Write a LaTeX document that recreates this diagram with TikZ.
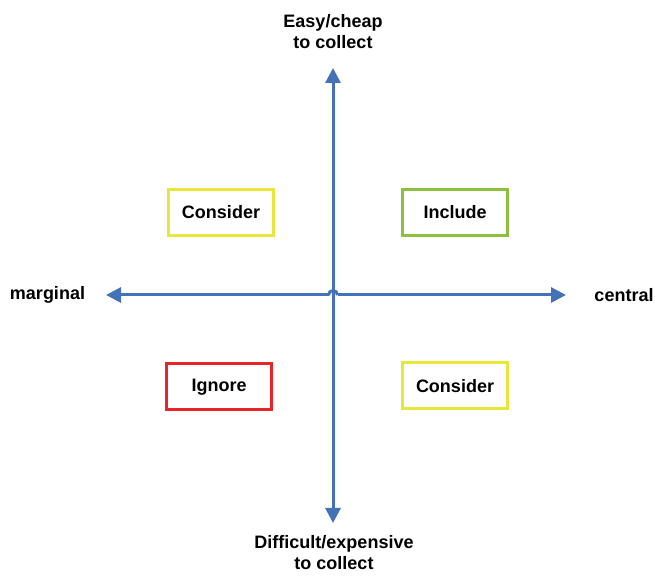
\documentclass[tikz,border=0pt]{standalone}
\usepackage{fontspec}
\setmainfont{Liberation Sans}
\usetikzlibrary{arrows.meta,calc}
\definecolor{axisblue}{RGB}{68,114,184}
\definecolor{boxyellow}{RGB}{232,230,58}
\definecolor{boxgreen}{RGB}{141,192,63}
\definecolor{boxred}{RGB}{232,38,42}
\begin{document}
\begin{tikzpicture}[x=1pt,y=1pt,
  lbl/.style={font=\fontsize{18}{21}\selectfont\bfseries, align=center, inner sep=0pt},
  quad/.style={draw=#1, line width=3pt, minimum width=105pt, minimum height=46pt, inner sep=0pt, font=\fontsize{18}{22}\selectfont\bfseries},
  axis/.style={draw=axisblue, line width=3pt, -{Triangle[length=15pt,width=15pt]}}]
\useasboundingbox (0,0) rectangle (655,575);
\coordinate (c) at (333,280);
\coordinate (top) at (333,507);
\coordinate (bot) at (333,52);
\coordinate (lft) at (106,280);
\coordinate (rgt) at (566,280);
% labels
\node[lbl] (easy) at (333,543) {Easy/cheap\\ to collect};
\node[lbl] (diff) at (334,22) {Difficult/expensive\\to collect};
\node[lbl] (marg) at (47.5,280) {marginal};
\node[lbl] (cent) at (624,280) {central};
% boxes
\node[quad=boxyellow] (con1) at (221,362.5) {Consider};
\node[quad=boxgreen] (inc) at (455,362.5) {Include};
\node[quad=boxred] (ign) at (219,188) {Ignore};
\node[quad=boxyellow] (con2) at (455,189) {Consider};
% axes
\draw[axis] (c) -- (top);
\draw[axis] (c) -- (bot);
\draw[axis] ($(c)+(-4.5,0)$) -- (lft);
\draw[axis] ($(c)+(4.5,0)$) -- (rgt);
\draw[draw=axisblue, line width=3pt] ($(c)+(-4.5,0)$) arc (180:0:4.5);
\end{tikzpicture}
\end{document}
